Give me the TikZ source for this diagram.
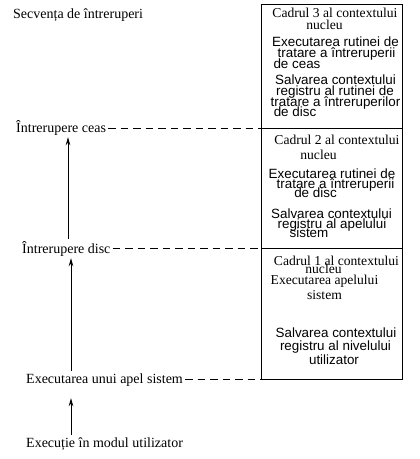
\documentclass[tikz,border=0pt]{standalone}
\usepackage{fontspec}
\setmainfont{Liberation Serif}
\setsansfont{Liberation Sans}
\usetikzlibrary{arrows.meta}
\tikzset{
  x=1pt, y=-1pt,
  frame/.style={draw, line width=0.9pt, rectangle, anchor=north west, inner sep=0pt, outer sep=0pt, minimum width=141pt},
  sline/.style={anchor=base, inner sep=0pt, font=\sffamily\fontsize{13.4}{13}\selectfont},
  rline/.style={anchor=base, inner sep=0pt, font=\rmfamily\fontsize{13.6}{13.5}\selectfont},
  lab/.style={anchor=base west, inner sep=2pt, font=\rmfamily\fontsize{14}{14}\selectfont},
  dashline/.style={line width=0.8pt, dash pattern=on 7.5pt off 5pt},
  arr/.style={line width=0.9pt, -{Stealth[length=8pt,width=4.5pt]}}
}
\begin{document}
\begin{tikzpicture}
\useasboundingbox (0,0) rectangle (420,459);
% frames
\node[frame, minimum height=124pt] (fr3) at (261,4) {};
\node[frame, minimum height=120pt] (fr2) at (261,128) {};
\node[frame, minimum height=131pt] (fr1) at (261,248) {};
% frame 3 text
\node[rline] (t31) at (335,17) {Cadrul 3 al contextului};
\node[rline] (t32) at (324.5,29) {nucleu};
\node[sline] (t33) at (335.5,46) {Executarea rutinei de};
\node[sline] (t34) at (336.5,57) {tratare a întreruperii};
\node[sline] (t35) at (297,68) {de ceas};
\node[sline] (t36) at (335.5,84) {Salvarea contextului};
\node[sline] (t37) at (335,95) {registru al rutinei de};
\node[sline] (t38) at (335.5,106) {tratare a întreruperilor};
\node[sline] (t39) at (295,116) {de disc};
% frame 2 text
\node[rline] (t21) at (337,144) {Cadrul 2 al contextului};
\node[rline] (t22) at (318.5,159) {nucleu};
\node[sline] (t23) at (332,178) {Executarea rutinei de};
\node[sline] (t24) at (335.5,188) {tratare a întreruperii};
\node[sline] (t25) at (315.5,197) {de disc};
\node[sline] (t26) at (331.5,218) {Salvarea contextului};
\node[sline] (t27) at (332,228) {registru al apelului};
\node[sline] (t28) at (309,237) {sistem};
% frame 1 text
\node[rline] (t11) at (336.5,265) {Cadrul 1 al contextului};
\node[rline] (t12) at (323.5,273) {nucleu};
\node[rline] (t13) at (324.5,284) {Executarea apelului};
\node[rline] (t14) at (324.5,299) {sistem};
\node[sline] (t15) at (336,337) {Salvarea contextului};
\node[sline] (t16) at (335.5,350) {registru al nivelului};
\node[sline] (t17) at (334,364) {utilizator};
% left labels
\node[lab] (title) at (11,18) {Secvența de întreruperi};
\node[lab] (lceas) at (14,132) {Întrerupere ceas};
\node[lab] (ldisc) at (20,253) {Întrerupere disc};
\node[lab] (lsys) at (24,383) {Executarea unui apel sistem};
\node[lab] (luser) at (24,447) {Execuție în modul utilizator};
% dashed connectors
\draw[dashline] (lceas.east |- fr3.south west) -- (fr3.south west);
\draw[dashline] (ldisc.east |- fr2.south west) -- (fr2.south west);
\draw[dashline] (lsys.east |- fr1.south west) -- (fr1.south west);
% arrows
\coordinate (ax1) at (68,0);
\coordinate (ax2) at (71,0);
\draw[arr] (ldisc.north -| ax1) -- (lceas.south -| ax1);
\draw[arr] (lsys.north -| ax2) -- (ldisc.south -| ax2);
\draw[arr, shorten >=10pt] (luser.north -| ax2) -- (lsys.south -| ax2);
\end{tikzpicture}
\end{document}
